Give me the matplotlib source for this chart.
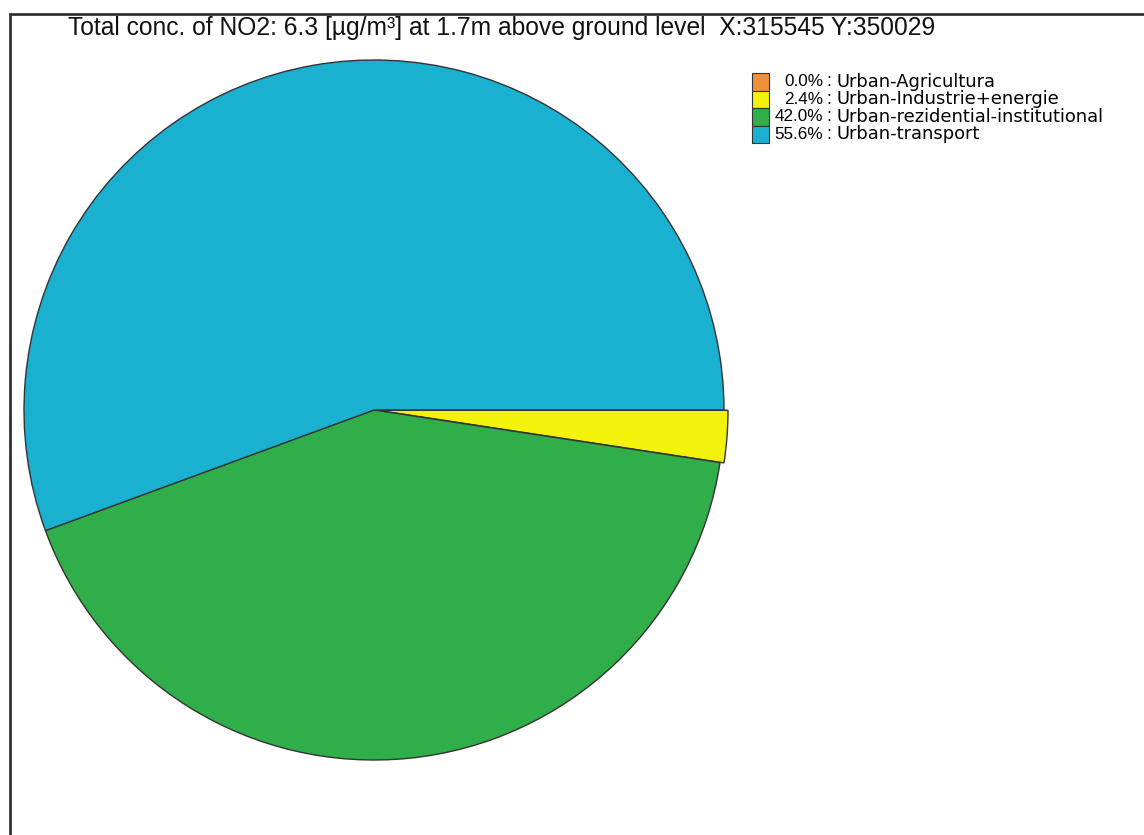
import matplotlib.pyplot as plt
from matplotlib.patches import Rectangle

# date
labels = ['Urban-Agricultura', 'Urban-Industrie+energie',
          'Urban-rezidential-institutional', 'Urban-transport']
shares = [0.0, 2.4, 42.0, 55.6]
colors = ['#f0913a', '#f2f20a', '#2fae4a', '#1ab0d0']
title = 'Total conc. of NO2: 6.3 [µg/m³] at 1.7m above ground level  X:315545 Y:350029'

plt.rcParams['font.family'] = ['Liberation Sans', 'DejaVu Sans']

W, H = 1144, 835
fig = plt.figure(figsize=(W / 100, H / 100), dpi=100)
ax = fig.add_axes([0, 0, 1, 1])

# cadru
ax.add_patch(Rectangle((10, -5), W, H - 14 + 5, fill=False, lw=2.0, ec='#333333'))

ax.text(68, H - 28, title, fontsize=17.7, va='center', ha='left', color='#111111')

# felia galbena e putin scoasa in afara (in pixeli)
explode = [0, 4, 0, 0]
cx, cy, r = 374, H - 410, 350
ax.pie(shares, colors=colors, startangle=0, counterclock=False,
       center=(cx, cy), radius=r, explode=explode,
       wedgeprops=dict(edgecolor='#333333', linewidth=1.0))
ax.set_xlim(0, W)
ax.set_ylim(0, H)
ax.set_aspect('auto')
ax.axis('off')

# legenda
y0 = H - 73
h = 17.5
for i, (lab, s, c) in enumerate(zip(labels, shares, colors)):
    y = y0 - (i + 1) * h
    ax.add_patch(Rectangle((752, y), 17, h, fc=c, ec='#333333', lw=0.8))
    ax.text(823, y + h / 2, '%.1f%%' % s, fontsize=12.3, ha='right', va='center')
    ax.text(829, y + h / 2, ':', fontsize=13, ha='center', va='center')
    ax.text(837, y + h / 2, lab, fontsize=12.9, ha='left', va='center',
            family='DejaVu Sans')

fig.savefig('out.png', dpi=100, facecolor='white')
